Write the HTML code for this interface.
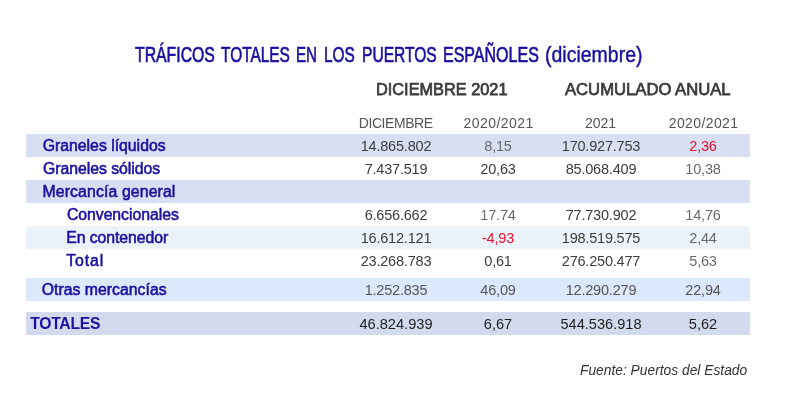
<!DOCTYPE html>
<html><head><meta charset="utf-8">
<style>
html,body{margin:0;padding:0;background:#fff;}
body{width:800px;height:418px;position:relative;overflow:hidden;font-family:"Liberation Sans",sans-serif;}
#w{position:absolute;left:0;top:0;width:800px;height:418px;background:#fff;will-change:transform;}
.a{position:absolute;white-space:nowrap;}
.tw{position:absolute;white-space:nowrap;top:40.9px;font-size:22.8px;color:#1b10a0;transform-origin:0 0;-webkit-text-stroke:0.3px #1b10a0;}
.h1{top:79.5px;font-size:17px;color:#3b3b3b;-webkit-text-stroke:0.75px #3b3b3b;}
.h2{top:115px;font-size:14px;color:#555;width:120px;text-align:center;}
.row{position:absolute;left:26px;width:724px;height:23px;}
.lbl{position:absolute;font-size:15.8px;color:#1b10a0;-webkit-text-stroke:0.55px #1b10a0;white-space:nowrap;top:3.4px;}
.n{position:absolute;font-size:14.5px;letter-spacing:-0.2px;color:#3d3d3d;white-space:nowrap;width:120px;text-align:center;top:3.9px;}
.g{color:#6a6a6a;}
.m{color:#555;}
.r{color:#e8112d;}
.c1{left:310px;} .c2{left:412px;} .c3{left:515px;} .c4{left:617px;}
.foot{left:580px;top:362.5px;font-size:13.8px;font-style:italic;color:#333;}
</style></head><body><div id="w">
<div class="tw" style="left:135.25px;transform:scaleX(0.6931);-webkit-text-stroke-width:0.7px">TRÁFICOS</div>
<div class="tw" style="left:220.50px;transform:scaleX(0.6764);-webkit-text-stroke-width:0.7px">TOTALES</div>
<div class="tw" style="left:295.94px;transform:scaleX(0.6631);-webkit-text-stroke-width:0.7px">EN</div>
<div class="tw" style="left:324.13px;transform:scaleX(0.6745);-webkit-text-stroke-width:0.7px">LOS</div>
<div class="tw" style="left:361.82px;transform:scaleX(0.6834);-webkit-text-stroke-width:0.7px">PUERTOS</div>
<div class="tw" style="left:443.30px;transform:scaleX(0.7026);-webkit-text-stroke-width:0.7px">ESPAÑOLES</div>
<div class="tw" style="left:544.65px;transform:scaleX(0.8548);-webkit-text-stroke-width:0.45px">(diciembre)</div>
<div class="a h1" style="left:376.4px;transform:scaleX(0.96);transform-origin:0 0">DICIEMBRE 2021</div>
<div class="a h1" style="left:565px;transform:scaleX(0.979);transform-origin:0 0">ACUMULADO ANUAL</div>
<div class="a h2" style="left:335.7px;letter-spacing:-0.44px">DICIEMBRE</div>
<div class="a h2" style="left:438.6px;letter-spacing:0.44px">2020/2021</div>
<div class="a h2" style="left:540.6px">2021</div>
<div class="a h2" style="left:643.6px;letter-spacing:0.4px">2020/2021</div>

<div class="row" style="top:134px;background:#d9dff2;">
 <div class="lbl" style="left:16.72px;letter-spacing:-0.004px">Graneles líquidos</div>
 <div class="n c1 ">14.865.802</div>
 <div class="n c2 g">8,15</div>
 <div class="n c3 ">170.927.753</div>
 <div class="n c4 r">2,36</div>
</div>
<div class="row" style="top:157px;">
 <div class="lbl" style="left:16.92px;letter-spacing:-0.024px">Graneles sólidos</div>
 <div class="n c1 ">7.437.519</div>
 <div class="n c2 ">20,63</div>
 <div class="n c3 ">85.068.409</div>
 <div class="n c4 g">10,38</div>
</div>
<div class="row" style="top:180px;background:#d9dff2;">
 <div class="lbl" style="left:16.5px;letter-spacing:0.127px">Mercancía general</div>
</div>
<div class="row" style="top:203px;">
 <div class="lbl" style="left:40.92px;letter-spacing:-0.039px">Convencionales</div>
 <div class="n c1 ">6.656.662</div>
 <div class="n c2 g">17.74</div>
 <div class="n c3 ">77.730.902</div>
 <div class="n c4 g">14,76</div>
</div>
<div class="row" style="top:226px;background:#ebf2f9;">
 <div class="lbl" style="left:40.22px;letter-spacing:-0.065px">En contenedor</div>
 <div class="n c1 ">16.612.121</div>
 <div class="n c2 r">-4,93</div>
 <div class="n c3 ">198.519.575</div>
 <div class="n c4 g">2,44</div>
</div>
<div class="row" style="top:249px;">
 <div class="lbl" style="left:40.36px;letter-spacing:0.865px">Total</div>
 <div class="n c1 ">23.268.783</div>
 <div class="n c2 ">0,61</div>
 <div class="n c3 ">276.250.477</div>
 <div class="n c4 g">5,63</div>
</div>
<div class="row" style="top:278px;background:#dce8fb;">
 <div class="lbl" style="left:15.73px;letter-spacing:0.014px">Otras mercancías</div>
 <div class="n c1 m">1.252.835</div>
 <div class="n c2 m">46,09</div>
 <div class="n c3 m">12.290.279</div>
 <div class="n c4 m">22,94</div>
</div>
<div class="row" style="top:312px;background:#d2daee">
 <div class="lbl" style="left:4.21px;top:3px;font-size:15.7px;font-weight:bold;-webkit-text-stroke:0;letter-spacing:-0.250px">TOTALES</div>
 <div class="n c1" style="color:#1e1e1e;font-size:14.6px;letter-spacing:0">46.824.939</div><div class="n c2" style="color:#1e1e1e;font-size:14.6px;letter-spacing:0">6,67</div>
 <div class="n c3" style="color:#1e1e1e;font-size:14.6px;letter-spacing:0">544.536.918</div><div class="n c4" style="color:#1e1e1e;font-size:14.6px;letter-spacing:0">5,62</div>
</div>
<div class="a foot">Fuente: Puertos del Estado</div>
</div></body></html>
